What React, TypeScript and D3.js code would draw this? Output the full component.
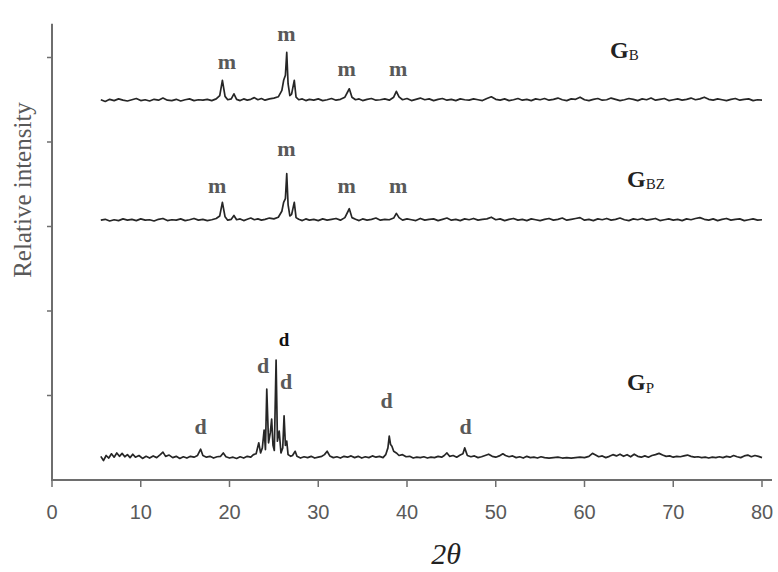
import React from "react";
import * as d3 from "d3";

// ---- data (2θ, counts above each pattern's baseline) ----
const xTicks = [0, 10, 20, 30, 40, 50, 60, 70, 80];
const yTicks = [1000, 2000, 3000, 4000, 5000];

const offsetGB = 4490;
const offsetGBZ = 3070;
const offsetGP = 260;

const patternGB: [number, number][] = [
  [5.5, 10], [6.0, -10], [6.5, 15], [7.0, 0], [7.5, 20], [8.0, 5], [8.5, -5], [9.0, 10], [9.5, 25], [10.0, 0],
  [10.5, 10], [11.0, -5], [11.5, 15], [12.0, 5], [12.5, 30], [13.0, 5], [13.5, 0], [14.0, 15], [14.5, -5], [15.0, 10],
  [15.5, 20], [16.0, 0], [16.5, 10], [17.0, 5], [17.5, 15], [18.0, 0], [18.5, 20], [18.9, 60], [19.2, 240], [19.5, 50],
  [19.8, 10], [20.2, 20], [20.5, 80], [20.8, 15], [21.2, 0], [21.6, 20], [22.0, 5], [22.4, 15], [22.8, 35], [23.2, 10],
  [23.6, 25], [24.0, 5], [24.5, 20], [25.0, 30], [25.5, 45], [25.9, 120], [26.1, 240], [26.3, 300], [26.45, 570], [26.6, 200],
  [26.8, 60], [27.0, 80], [27.3, 240], [27.5, 40], [27.8, 10], [28.2, 20], [28.6, 0], [29.0, 15], [29.5, 5], [30.0, 20],
  [30.5, 0], [31.0, 10], [31.5, 25], [32.0, 5], [32.5, 15], [33.0, 40], [33.5, 140], [33.8, 40], [34.2, 10], [34.6, 20],
  [35.0, 0], [35.5, 15], [36.0, 25], [36.5, 5], [37.0, 10], [37.5, 20], [38.0, 5], [38.5, 40], [38.8, 110], [39.1, 45],
  [39.5, 10], [40.0, 25], [40.5, 0], [41.0, 15], [41.5, 30], [42.0, 10], [42.5, 20], [43.0, 0], [43.5, 15], [44.0, 25],
  [44.5, 5], [45.0, 15], [45.5, 0], [46.0, 20], [46.5, 10], [47.0, 5], [47.5, 20], [48.0, 10], [48.5, 0], [49.0, 25],
  [49.5, 45], [50.0, 15], [50.5, 5], [51.0, 20], [51.5, 0], [52.0, 10], [52.5, 25], [53.0, 5], [53.5, 15], [54.0, 0],
  [54.5, 20], [55.0, 10], [55.5, 25], [56.0, 5], [56.5, 15], [57.0, 30], [57.5, 10], [58.0, 0], [58.5, 20], [59.0, 15],
  [59.5, 40], [60.0, 10], [60.5, 0], [61.0, 15], [61.5, 25], [62.0, 5], [62.5, 10], [63.0, 30], [63.5, 15], [64.0, 0],
  [64.5, 10], [65.0, 25], [65.5, 15], [66.0, 0], [66.5, 20], [67.0, 10], [67.5, 30], [68.0, 5], [68.5, 15], [69.0, 25],
  [69.5, 0], [70.0, 10], [70.5, 20], [71.0, 5], [71.5, 15], [72.0, 30], [72.5, 10], [73.0, 20], [73.5, 40], [74.0, 15],
  [74.5, 5], [75.0, 20], [75.5, 10], [76.0, 0], [76.5, 15], [77.0, 25], [77.5, 5], [78.0, 15], [78.5, 20], [79.0, 0],
  [79.5, 10], [80.0, 5],
];

const patternGBZ: [number, number][] = [
  [5.5, 5], [6.0, 15], [6.5, -5], [7.0, 10], [7.5, 0], [8.0, 20], [8.5, 5], [9.0, 15], [9.5, 0], [10.0, 20],
  [10.5, 5], [11.0, 10], [11.5, -5], [12.0, 15], [12.5, 25], [13.0, 0], [13.5, 10], [14.0, 5], [14.5, 20], [15.0, 0],
  [15.5, 10], [16.0, 25], [16.5, 5], [17.0, 15], [17.5, 0], [18.0, 10], [18.5, 25], [18.9, 55], [19.2, 215], [19.5, 45],
  [19.8, 5], [20.2, 15], [20.5, 60], [20.8, 10], [21.2, 20], [21.6, 0], [22.0, 15], [22.4, 30], [22.8, 10], [23.2, 20],
  [23.6, 5], [24.0, 15], [24.5, 30], [25.0, 20], [25.5, 40], [25.9, 110], [26.1, 215], [26.3, 260], [26.45, 555], [26.6, 190],
  [26.8, 55], [27.0, 70], [27.3, 215], [27.5, 35], [27.8, 15], [28.2, 0], [28.6, 20], [29.0, 5], [29.5, 15], [30.0, 0],
  [30.5, 20], [31.0, 5], [31.5, 15], [32.0, 25], [32.5, 5], [33.0, 35], [33.5, 140], [33.8, 35], [34.2, 15], [34.6, 0],
  [35.0, 20], [35.5, 5], [36.0, 15], [36.5, 30], [37.0, 5], [37.5, 15], [38.0, 10], [38.5, 30], [38.8, 85], [39.1, 35],
  [39.5, 5], [40.0, 20], [40.5, 10], [41.0, 0], [41.5, 25], [42.0, 5], [42.5, 15], [43.0, 20], [43.5, 0], [44.0, 15],
  [44.5, 30], [45.0, 5], [45.5, 15], [46.0, 0], [46.5, 20], [47.0, 10], [47.5, 25], [48.0, 5], [48.5, 15], [49.0, 20],
  [49.5, 40], [50.0, 10], [50.5, 20], [51.0, 0], [51.5, 15], [52.0, 25], [52.5, 5], [53.0, 15], [53.5, 0], [54.0, 20],
  [54.5, 10], [55.0, 0], [55.5, 15], [56.0, 25], [56.5, 5], [57.0, 15], [57.5, 30], [58.0, 5], [58.5, 15], [59.0, 25],
  [59.5, 35], [60.0, 5], [60.5, 15], [61.0, 0], [61.5, 20], [62.0, 10], [62.5, 25], [63.0, 5], [63.5, 15], [64.0, 30],
  [64.5, 10], [65.0, 0], [65.5, 20], [66.0, 10], [66.5, 25], [67.0, 5], [67.5, 15], [68.0, 25], [68.5, 0], [69.0, 10],
  [69.5, 20], [70.0, 5], [70.5, 15], [71.0, 0], [71.5, 20], [72.0, 10], [72.5, 25], [73.0, 35], [73.5, 15], [74.0, 5],
  [74.5, 20], [75.0, 0], [75.5, 15], [76.0, 25], [76.5, 5], [77.0, 15], [77.5, 20], [78.0, 0], [78.5, 10], [79.0, 20],
  [79.5, 5], [80.0, 10],
];

const patternGP: [number, number][] = [
  [5.5, 20], [5.8, -30], [6.1, 30], [6.4, 0], [6.7, 50], [7.0, 10], [7.3, 60], [7.6, 20], [7.9, 55], [8.2, 15],
  [8.5, 40], [8.8, 5], [9.1, 45], [9.4, 10], [9.8, 30], [10.2, -5], [10.6, 20], [11.0, 0], [11.4, 25], [11.8, 5],
  [12.2, 40], [12.5, 70], [12.8, 20], [13.2, 35], [13.6, 5], [14.0, 20], [14.4, -5], [14.8, 15], [15.2, 0], [15.6, 20],
  [16.0, 10], [16.4, 30], [16.75, 105], [17.0, 30], [17.4, 10], [17.8, 20], [18.2, 0], [18.6, 15], [19.0, 20], [19.3, 60],
  [19.6, 15], [20.0, 0], [20.4, 10], [20.8, -5], [21.2, 15], [21.6, 0], [22.0, 20], [22.4, 10], [22.7, 40], [23.0, 50],
  [23.3, 180], [23.5, 60], [23.7, 120], [23.9, 330], [24.05, 100], [24.2, 815], [24.4, 180], [24.6, 300], [24.75, 460], [24.9, 150],
  [25.05, 90], [25.25, 1160], [25.4, 200], [25.6, 320], [25.8, 60], [26.0, 120], [26.15, 500], [26.3, 150], [26.45, 200], [26.6, 40],
  [26.9, 20], [27.1, 30], [27.4, 80], [27.6, 20], [28.0, 0], [28.4, 15], [28.8, 5], [29.2, 20], [29.6, 0], [30.0, 10],
  [30.4, 20], [30.7, 40], [31.0, 80], [31.3, 25], [31.7, 5], [32.1, 15], [32.5, 0], [32.9, 20], [33.3, 10], [33.7, 25],
  [34.1, 5], [34.5, 20], [34.9, 0], [35.3, 15], [35.7, 5], [36.1, 25], [36.5, 10], [36.9, 20], [37.3, 5], [37.6, 40],
  [37.85, 120], [38.0, 260], [38.15, 160], [38.3, 140], [38.5, 80], [38.8, 60], [39.1, 30], [39.5, 40], [39.9, 15], [40.3, 20],
  [40.7, 0], [41.1, 10], [41.5, 5], [41.9, 15], [42.3, 0], [42.7, 10], [43.1, 5], [43.5, 20], [43.9, 10], [44.2, 30],
  [44.5, 60], [44.8, 20], [45.2, 30], [45.6, 10], [46.0, 35], [46.3, 50], [46.5, 120], [46.8, 30], [47.2, 15], [47.6, 25],
  [48.0, 5], [48.4, 15], [48.8, 30], [49.2, 45], [49.6, 20], [50.0, 10], [50.4, 25], [50.8, 50], [51.1, 30], [51.5, 15],
  [51.9, 25], [52.3, 5], [52.7, 15], [53.1, 0], [53.5, 20], [53.9, 5], [54.3, 10], [54.7, 0], [55.1, 15], [55.5, 5],
  [56.0, 0], [56.5, 5], [57.0, 10], [57.5, 0], [58.0, 5], [58.5, 0], [59.0, 5], [59.5, 10], [60.0, 5], [60.5, 20],
  [60.9, 55], [61.2, 40], [61.6, 15], [62.0, 25], [62.4, 5], [62.8, 20], [63.2, 40], [63.6, 25], [64.0, 45], [64.4, 20],
  [64.8, 40], [65.2, 15], [65.6, 45], [66.0, 20], [66.4, 10], [66.8, 25], [67.2, 10], [67.6, 30], [68.0, 40], [68.4, 55],
  [68.8, 35], [69.2, 20], [69.6, 25], [70.0, 10], [70.4, 20], [70.8, 15], [71.2, 25], [71.6, 35], [72.0, 20], [72.4, 10],
  [72.8, 15], [73.2, 5], [73.6, 10], [74.0, 0], [74.4, 10], [74.8, 5], [75.2, 15], [75.6, 5], [76.0, 20], [76.4, 10],
  [76.8, 30], [77.2, 15], [77.6, 5], [78.0, 25], [78.4, 35], [78.8, 15], [79.2, 30], [79.6, 20], [80.0, 5],
];

// peak annotations: [2θ, counts (absolute, label baseline), label]
const annotGB: [number, number, string][] = [
  [19.7, 4860, "m"], [26.4, 5190, "m"], [33.2, 4777, "m"], [39.0, 4777, "m"],
];
const annotGBZ: [number, number, string][] = [
  [18.6, 3394, "m"], [26.4, 3831, "m"], [33.2, 3394, "m"], [39.0, 3394, "m"],
];
const annotGP: [number, number, string, boolean][] = [
  [16.75, 544, "d", false], [23.8, 1265, "d", false], [26.14, 1584, "d", true],
  [26.37, 1076, "d", false], [37.7, 851, "d", false], [46.6, 544, "d", false],
];

export default function App() {
  const W = 778, H = 572;
  const x = d3.scaleLinear().domain([0, 80]).range([52, 762]);
  const y = d3.scaleLinear().domain([0, 5400]).range([480, 23.7]);

  const mk = (offset: number) =>
    d3.line<[number, number]>()
      .x((d) => x(d[0]))
      .y((d) => y(offset + d[1]));

  const serif = "'Liberation Serif', 'DejaVu Serif', serif";
  const narrow = "'Liberation Sans Narrow', 'Liberation Sans', Arial, sans-serif";
  const lineColor = "#262626";
  const axisColor = "#6e6e6e";
  const labelColor = "#595959";

  return (
    <svg width={W} height={H} style={{ position: "fixed", left: 0, top: 0, background: "#fff" }}>
      <rect x={0} y={0} width={W} height={H} fill="#fff" />
      {/* axes */}
      <line x1={x(0)} x2={x(0)} y1={y(5400)} y2={y(0)} stroke={axisColor} strokeWidth={2} />
      <line x1={x(0) - 1} x2={772} y1={y(0)} y2={y(0)} stroke={axisColor} strokeWidth={2} />
      {yTicks.map((t) => (
        <line key={"yt" + t} x1={x(0) - 5} x2={x(0)} y1={y(t)} y2={y(t)} stroke={axisColor} strokeWidth={1.5} />
      ))}
      {xTicks.map((t) => (
        <g key={"xt" + t}>
          <line x1={x(t)} x2={x(t)} y1={y(0)} y2={y(0) + 7} stroke={axisColor} strokeWidth={1.5} />
          <text x={x(t)} y={519} textAnchor="middle" fontFamily={narrow} fontSize={20} fill={labelColor}>
            {t}
          </text>
        </g>
      ))}
      <text
        transform={`translate(31,190) rotate(-90)`}
        textAnchor="middle"
        fontFamily={serif}
        fontSize={25}
        fill={labelColor}
      >
        Relative intensity
      </text>
      <text x={446} y={564} textAnchor="middle" fontFamily={serif} fontSize={30} fontStyle="italic" fill="#222">
        2θ
      </text>

      {/* patterns */}
      <path d={mk(offsetGB)(patternGB) || ""} fill="none" stroke={lineColor} strokeWidth={1.7} strokeLinejoin="round" />
      <path d={mk(offsetGBZ)(patternGBZ) || ""} fill="none" stroke={lineColor} strokeWidth={1.7} strokeLinejoin="round" />
      <path d={mk(offsetGP)(patternGP) || ""} fill="none" stroke={lineColor} strokeWidth={1.7} strokeLinejoin="round" />

      {/* annotations */}
      {annotGB.concat(annotGBZ).map((a, i) => (
        <text key={"m" + i} x={x(a[0])} y={y(a[1])} textAnchor="middle" fontFamily={serif} fontWeight="bold" fontSize={22} fill={labelColor}>
          {a[2]}
        </text>
      ))}
      {annotGP.map((a, i) => (
        <text key={"d" + i} x={x(a[0])} y={y(a[1])} textAnchor="middle" fontFamily={serif} fontWeight="bold" fontSize={a[3] ? 19 : 22} fill={a[3] ? "#111" : labelColor}>
          {a[2]}
        </text>
      ))}

      {/* series names */}
      <text x={610} y={58} fontFamily={serif} fontWeight="bold" fontSize={24} fill="#222">
        G<tspan fontSize={15} fontWeight="normal" dy={2}>B</tspan>
      </text>
      <text x={627} y={187} fontFamily={serif} fontWeight="bold" fontSize={24} fill="#222">
        G<tspan fontSize={15} fontWeight="normal" dy={2}>BZ</tspan>
      </text>
      <text x={627} y={390} fontFamily={serif} fontWeight="bold" fontSize={24} fill="#222">
        G<tspan fontSize={15} fontWeight="normal" dy={3}>P</tspan>
      </text>
    </svg>
  );
}
